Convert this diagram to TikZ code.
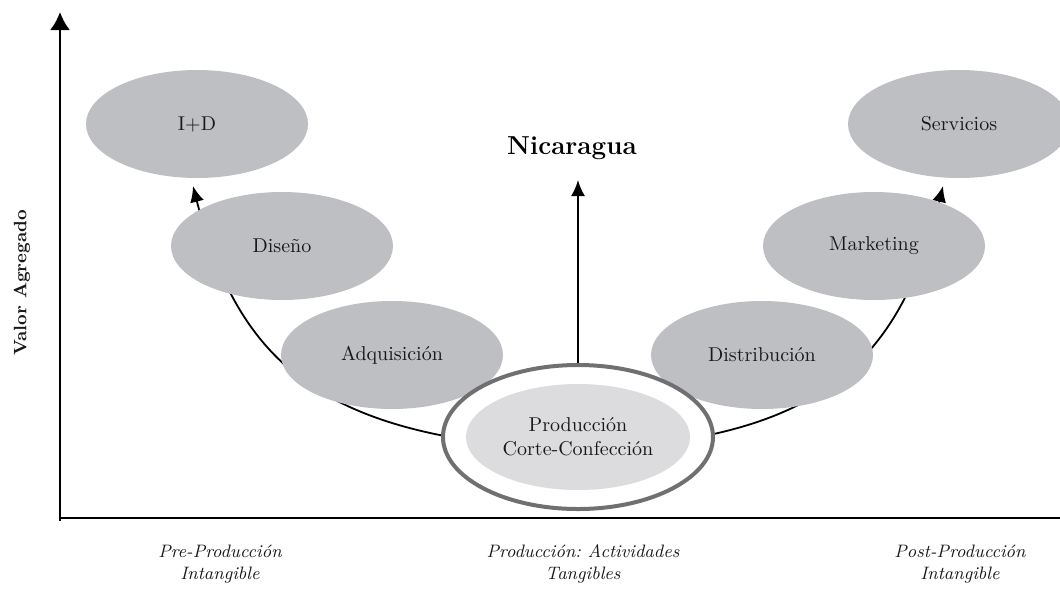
\documentclass[tikz,border=0pt]{standalone}
\usepackage{amsmath}
\usetikzlibrary{arrows.meta,shapes.geometric}

\definecolor{elgris}{RGB}{190,191,195}
\definecolor{elclaro}{RGB}{220,220,222}
\definecolor{borde}{RGB}{112,112,114}

\frenchspacing

\begin{document}
\begin{tikzpicture}[x=0.5pt,y=-0.5pt,>={Latex[length=8pt,width=7pt]},
  etapa/.style={ellipse,fill=elgris,minimum width=111pt,minimum height=54pt,inner sep=0pt,text=black!90},
  fase/.style={align=center,font=\small\itshape,text=black!90}]

\useasboundingbox (0,0) rectangle (1060,590);

% ejes
\coordinate (origen) at (60,518);
\coordinate (ytope) at (60,12);
\coordinate (xfin) at (1060,518);
\draw[->,line width=1.3pt,>={Latex[length=9pt,width=10pt]}] (60,521)--(ytope);
\draw[line width=1.3pt] (origen)--(xfin);

\node[rotate=90,font=\small\bfseries,text=black!90] (valor) at (22,283) {Valor Agregado};

% curva en U
\coordinate (izq) at (193,186);
\coordinate (der) at (943,186);
\draw[<->,line width=0.9pt] (izq) .. controls (240,370) and (330,440) .. (578,450)
	.. controls (813,440) and (898,370) .. (der);

% etapas
\node[etapa] (id) at (197,124) {I+D};
\node[etapa] (diseno) at (282,246) {Diseño};
\node[etapa] (adq) at (392,355) {Adquisición};
\node[etapa] (dist) at (762,355) {Distribución};
\node[etapa] (mkt) at (874,246) {Marketing};
\node[etapa] (serv) at (959,124) {Servicios};

\node[ellipse,draw=borde,line width=2pt,fill=white,minimum width=135pt,minimum height=72pt] (prod) at (578,437) {};
\node[ellipse,fill=elclaro,minimum width=112pt,minimum height=53pt,inner sep=0pt,align=center,text=black!90] (corte) at (578,437) {Producción\\Corte-Confección};

\node[font=\fontsize{13}{15}\selectfont\bfseries,text=black] (nic) at (572,148) {Nicaragua};
\coordinate (cima) at (578,180);
\draw[->,line width=1pt] (prod.north)--(cima);

% fases
\node[fase] (pre) at (220,564) {Pre-Producción\\Intangible};
\node[fase] (tang) at (583,564) {Producción: Actividades\\Tangibles};
\node[fase] (post) at (960,564) {Post-Producción\\Intangible};

\end{tikzpicture}
\end{document}
